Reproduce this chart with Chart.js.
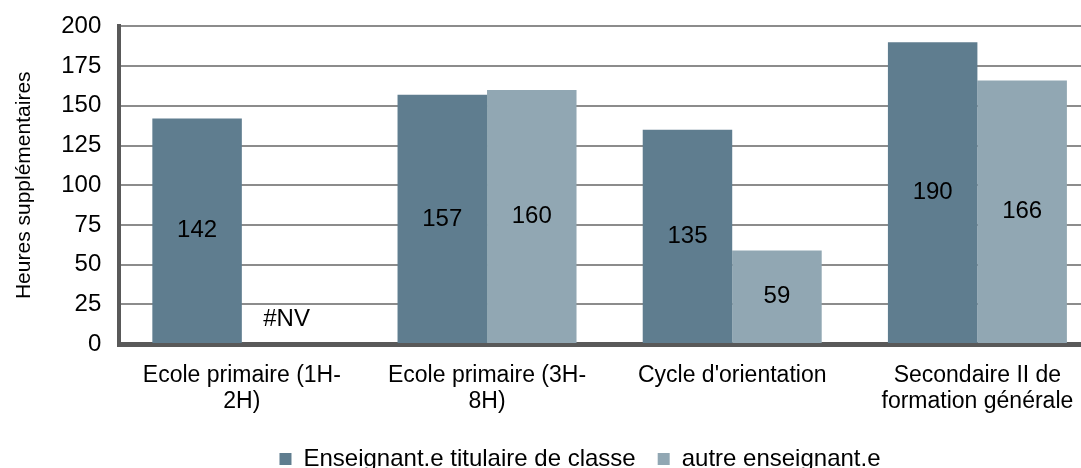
<!DOCTYPE html>
<html>
<head>
<meta charset="utf-8">
<script src="https://cdn.jsdelivr.net/npm/chart.js@4/dist/chart.umd.min.js"></script>
<style>
  html, body { margin: 0; padding: 0; background: #fff; overflow: hidden; }
  #wrap { width: 1100px; height: 487px; margin-top: -6px; position: relative; }
</style>
</head>
<body>
<div id="wrap"><canvas id="chart"></canvas></div>
<script>
const categories = [
    ["Ecole primaire (1H-", "2H)"],
    ["Ecole primaire (3H-", "8H)"],
    ["Cycle d'orientation"],
    ["Secondaire II de", "formation générale"],
];
const titulaire = [142, 157, 135, 190];
const autre = [null, 160, 59, 166];
const seriesNames = ["Enseignant.e titulaire de classe", "autre enseignant.e"];
const yTicks = [0, 25, 50, 75, 100, 125, 150, 175, 200];

const darkBlue = "#5f7d8f";
const lightBlue = "#91a7b3";
const font = "'Liberation Sans', Arial, sans-serif";

// value labels in the middle of each bar, "#NV" where missing
const barLabels = {
    id: "barLabels",
    afterDatasetsDraw(chart) {
        const ctx = chart.ctx;
        const y = chart.scales.y;
        ctx.save();
        ctx.font = "24px " + font;
        ctx.fillStyle = "#000";
        ctx.textAlign = "center";
        ctx.textBaseline = "middle";
        chart.data.datasets.forEach((ds, di) => {
            const meta = chart.getDatasetMeta(di);
            meta.data.forEach((bar, i) => {
                const v = ds.data[i];
                if (v === null) {
                    ctx.fillText("#NV", bar.x, y.getPixelForValue(0) - 25);
                } else {
                    ctx.fillText(String(v), bar.x, (bar.y + bar.base) / 2);
                }
            });
        });
        ctx.restore();
    },
};

// nudge the legend to where the original sits
const legendShift = {
    id: "legendShift",
    afterLayout(chart) {
        chart.legend.left += 24;
        chart.legend.right += 24;
    },
};

new Chart(document.getElementById("chart"), {
    type: "bar",
    data: {
        labels: categories,
        datasets: [
            {
                label: seriesNames[0],
                data: titulaire,
                backgroundColor: darkBlue,
                categoryPercentage: 0.73,
                barPercentage: 1,
            },
            {
                label: seriesNames[1],
                data: autre,
                backgroundColor: lightBlue,
                categoryPercentage: 0.73,
                barPercentage: 1,
            },
        ],
    },
    options: {
        responsive: true,
        maintainAspectRatio: false,
        animation: false,
        layout: { padding: { left: 12, right: 0, top: 8, bottom: 0 } },
        plugins: {
            legend: {
                position: "bottom",
                labels: {
                    boxWidth: 12,
                    boxHeight: 12,
                    padding: 22,
                    color: "#000",
                    font: { size: 24, family: font },
                },
            },
            tooltip: { enabled: false },
        },
        scales: {
            x: {
                grid: { display: false },
                border: { color: "#595959", width: 5 },
                ticks: {
                    color: "#000",
                    padding: 10,
                    maxRotation: 0,
                    autoSkip: false,
                    font: { size: 23, family: font, lineHeight: 1.15 },
                },
            },
            y: {
                min: 0,
                max: 200,
                afterBuildTicks(scale) {
                    scale.ticks = yTicks.map((v) => ({ value: v }));
                },
                grid: { color: "#8c8c8c", lineWidth: 2, drawTicks: false },
                border: { color: "#595959", width: 4 },
                ticks: {
                    color: "#000",
                    padding: 18,
                    font: { size: 24, family: font },
                },
                title: {
                    display: true,
                    text: "Heures supplémentaires",
                    color: "#000",
                    font: { size: 21, family: font },
                    padding: { top: 0, bottom: 6 },
                },
            },
        },
    },
    plugins: [barLabels, legendShift],
});
</script>
</body>
</html>
